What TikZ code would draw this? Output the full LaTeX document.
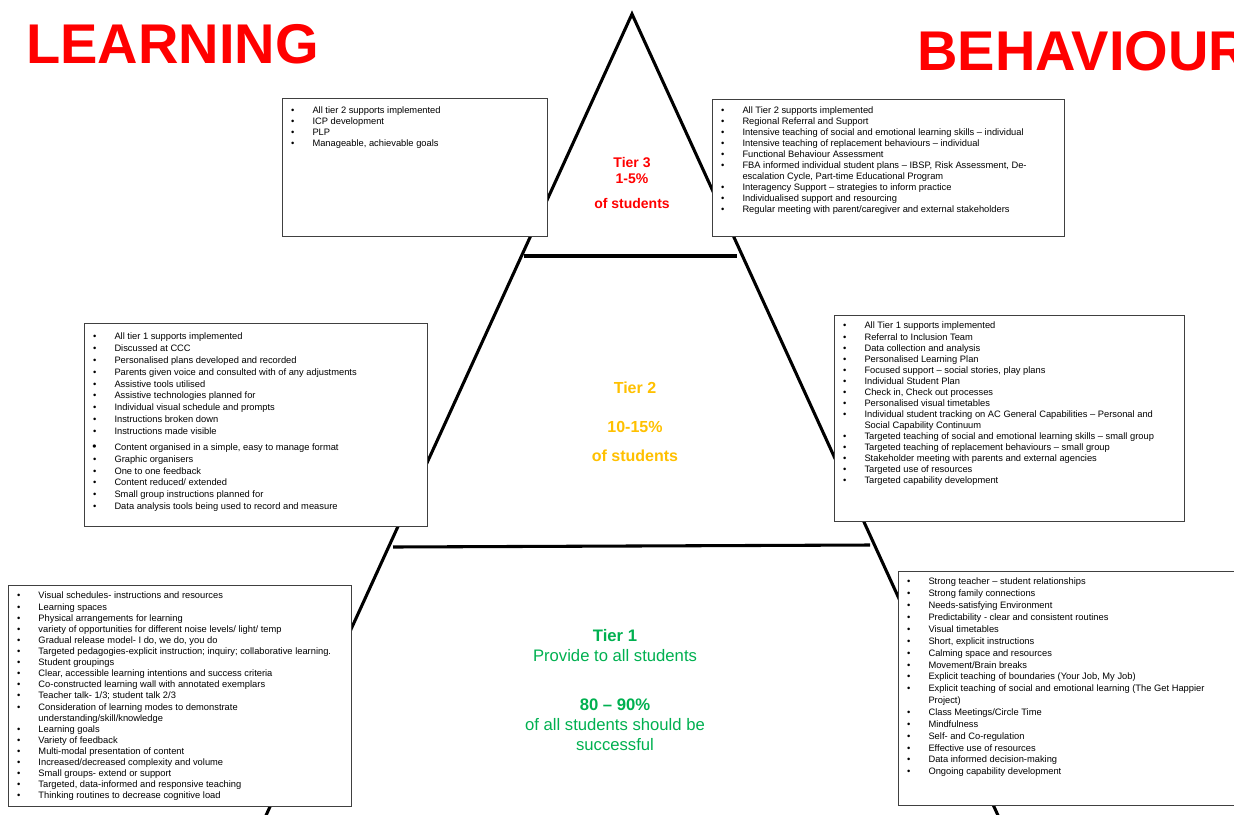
\documentclass[tikz,border=0pt]{standalone}
\usepackage{fontspec}
\setmainfont{Liberation Sans}
\usepackage{enumitem}
\definecolor{ffqqqq}{rgb}{1,0,0}
\definecolor{ffcqqq}{rgb}{1,0.7529411764705882,0}
\definecolor{qqbqvq}{rgb}{0,0.6901960784313725,0.3137254901960784}
\newlength{\unitpx}
\setlength{\unitpx}{0.75pt}
\setlist[itemize]{label=\textbullet,leftmargin=30\unitpx,labelsep=18\unitpx,labelwidth=4\unitpx,itemsep=0pt,parsep=0pt,topsep=0pt,partopsep=0pt}
% #1 top gap (px), #2 line spacing, #3 items
\newcommand{\boxitems}[3]{\fontsize{7}{#2}\selectfont\raggedright\vspace*{#1\unitpx}\begin{itemize}#3\end{itemize}}
\tikzset{
  edge/.style={line width=2.3pt},
  infobox/.style={draw=black!75,line width=0.75pt,fill=white,inner sep=0pt,anchor=north west},
  heading/.style={inner sep=0pt,text=ffqqqq,font=\fontsize{42}{48}\selectfont\bfseries,anchor=base west},
  tiertext/.style={inner sep=0pt,align=center,anchor=north}
}

\begin{document}
\begin{tikzpicture}[x=0.75pt,y=-0.75pt,line join=miter]
\clip (0,0) rectangle (1234,814);
\coordinate (apex) at (632,14);
\coordinate (baseL) at (263,822);
\coordinate (baseR) at (1001,822);
\draw[edge] (baseL) -- (apex) -- (baseR);
\draw[edge] (524,256) -- (737,256);
\draw[edge] (393,547) -- (870,545);
% tier 3 boxes
\node[infobox] (lrnthree) at (282,98) {\parbox[c][138\unitpx][t]{265\unitpx}{\boxitems{8.7}{8.25pt}{%
\item All tier 2 supports implemented
\item ICP development
\item PLP
\item Manageable, achievable goals}}};
\node[infobox] (behthree) at (712,99) {\parbox[c][137\unitpx][t]{352\unitpx}{\boxitems{7.7}{8.25pt}{%
\item All Tier 2 supports implemented
\item Regional Referral and Support
\item Intensive teaching of social and emotional learning skills -- individual
\item Intensive teaching of replacement behaviours -- individual
\item Functional Behaviour Assessment
\item FBA informed individual student plans -- IBSP, Risk Assessment, De-\\escalation Cycle, Part-time Educational Program
\item Interagency Support -- strategies to inform practice
\item Individualised support and resourcing
\item Regular meeting with parent/caregiver and external stakeholders}}};
% tier 2 boxes
\node[infobox] (lrntwo) at (84,323) {\parbox[c][203\unitpx][t]{343\unitpx}{\boxitems{9.7}{8.85pt}{%
\item All tier 1 supports implemented
\item Discussed at CCC
\item Personalised plans developed and recorded
\item Parents given voice and consulted with of any adjustments
\item Assistive tools utilised
\item Assistive technologies planned for
\item Individual visual schedule and prompts
\item Instructions broken down
\item Instructions made visible
\vspace{3.2pt}
\item[{\fontsize{9}{8}\selectfont\textbullet}] Content organised in a simple, easy to manage format
\item Graphic organisers
\item One to one feedback
\item Content reduced/ extended
\item Small group instructions planned for
\item Data analysis tools being used to record and measure}}};
\node[infobox] (behtwo) at (834,315) {\parbox[c][206\unitpx][t]{350\unitpx}{\boxitems{6.7}{8.3pt}{%
\item All Tier 1 supports implemented
\item Referral to Inclusion Team
\item Data collection and analysis
\item Personalised Learning Plan
\item Focused support -- social stories, play plans
\item Individual Student Plan
\item Check in, Check out processes
\item Personalised visual timetables
\item Individual student tracking on AC General Capabilities -- Personal and\\Social Capability Continuum
\item Targeted teaching of social and emotional learning skills -- small group
\item Targeted teaching of replacement behaviours -- small group
\item Stakeholder meeting with parents and external agencies
\item Targeted use of resources
\item Targeted capability development}}};
% tier 1 boxes
\node[infobox] (lrnone) at (8,585) {\parbox[c][221\unitpx][t]{343\unitpx}{\boxitems{6.7}{8.33pt}{%
\item Visual schedules- instructions and resources
\item Learning spaces
\item Physical arrangements for learning
\item variety of opportunities for different noise levels/ light/ temp
\item Gradual release model- I do, we do, you do
\item Targeted pedagogies-explicit instruction; inquiry; collaborative learning.
\item Student groupings
\item Clear, accessible learning intentions and success criteria
\item Co-constructed learning wall with annotated exemplars
\item Teacher talk- 1/3; student talk 2/3
\item Consideration of learning modes to demonstrate\\understanding/skill/knowledge
\item Learning goals
\item Variety of feedback
\item Multi-modal presentation of content
\item Increased/decreased complexity and volume
\item Small groups- extend or support
\item Targeted, data-informed and responsive teaching
\item Thinking routines to decrease cognitive load}}};
\node[infobox] (behone) at (898,571) {\parbox[c][234\unitpx][t]{340\unitpx}{\boxitems{6.7}{8.9pt}{%
\item Strong teacher -- student relationships
\item Strong family connections
\item Needs-satisfying Environment
\item Predictability - clear and consistent routines
\item Visual timetables
\item Short, explicit instructions
\item Calming space and resources
\item Movement/Brain breaks
\item Explicit teaching of boundaries (Your Job, My Job)
\item Explicit teaching of social and emotional learning (The Get Happier\\Project)
\item Class Meetings/Circle Time
\item Mindfulness
\item Self- and Co-regulation
\item Effective use of resources
\item Data informed decision-making
\item Ongoing capability development}}};
% tier labels
\node[tiertext,text=ffqqqq,font=\fontsize{10.5}{12}\selectfont\bfseries] (tierthree) at (632,157)
  {Tier 3\\1-5\%\\[6.75pt]of students};
\node[tiertext,text=ffcqqq,font=\fontsize{12}{14.4}\selectfont\bfseries] (tiertwo) at (635,382)
  {Tier 2\\[14.85pt]10-15\%\\[7.35pt]of students};
\node[tiertext,text=qqbqvq,font=\fontsize{12.5}{15}\selectfont] (tierone) at (615,629)
  {\textbf{Tier 1}\\Provide to all students\\[21.75pt]\textbf{80 -- 90\%}\\of all students should be\\successful};
% headings
\node[heading] (learning) at (26,63) {LEARNING};
\node[heading] (behaviour) at (917,70) {BEHAVIOUR};
\end{tikzpicture}
\end{document}
